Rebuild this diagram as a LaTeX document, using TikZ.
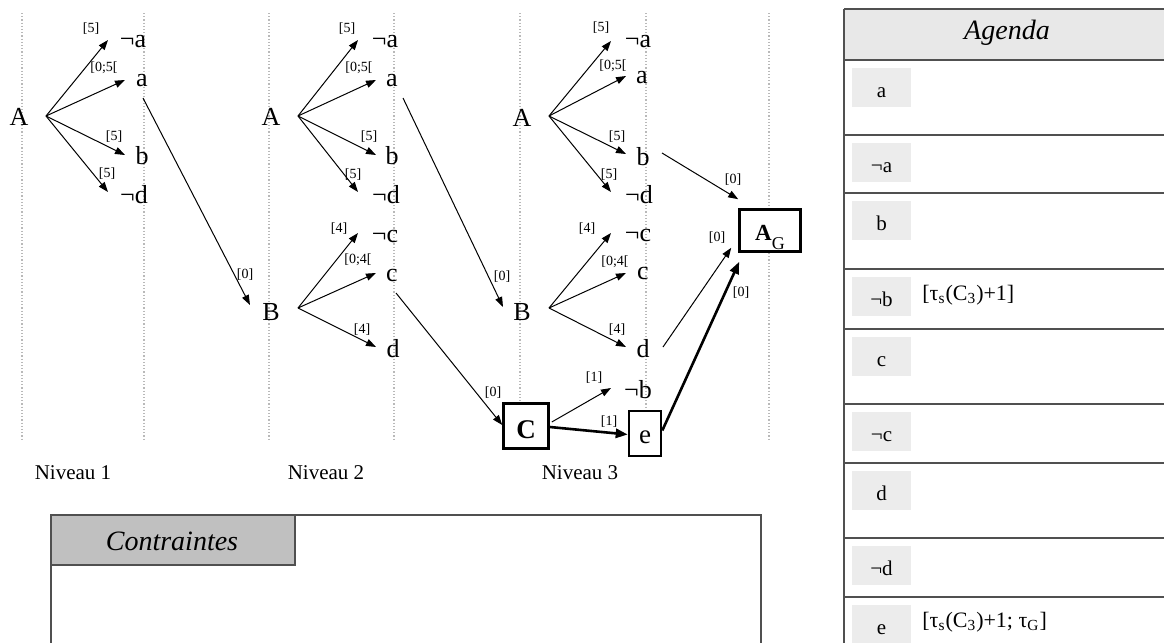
\documentclass[tikz,border=0pt]{standalone}
\usepackage{fontspec}
\setmainfont{Liberation Serif}
\usetikzlibrary{arrows.meta,calc}
\definecolor{tline}{HTML}{505050}
\definecolor{hdrA}{HTML}{E8E8E8}
\definecolor{hdrB}{HTML}{C0C0C0}
\definecolor{cellg}{HTML}{ECECEC}
\begin{document}
\begin{tikzpicture}[x=0.5pt,y=-0.5pt,
  lt/.style={font=\fontsize{13}{13}\selectfont, inner sep=0pt},
  lab/.style={font=\fontsize{7}{7}\selectfont, inner sep=0pt},
  niv/.style={font=\fontsize{10.5}{10.5}\selectfont, inner sep=0pt},
  tl/.style={font=\fontsize{10.5}{10.5}\selectfont, inner sep=0pt, anchor=base},
  tx/.style={font=\fontsize{11}{11}\selectfont, inner sep=0pt, anchor=base west},
  ttl/.style={font=\fontsize{14}{14}\selectfont\itshape, inner sep=0pt},
  arr/.style={-{Triangle[length=5pt,width=3.6pt]}, line width=0.5pt},
  tarr/.style={-{Triangle[length=6pt,width=4.6pt]}, line width=1.3pt},
  gridl/.style={densely dotted, gray!55, line width=0.6pt},
  boxn/.style={draw, line width=1.3pt, fill=white, inner sep=0pt, text depth=0pt},
  tbl/.style={draw=tline, line width=0.6pt}
]
\useasboundingbox (0,0) rectangle (1164,643);

% dotted level lines
\foreach \xx in {22,144,269,394,520,646,769}
  \draw[gridl] (\xx,13) -- (\xx,440);

% ---------- Level 1 ----------
\node[lt] (A1) at (19,117) {A};
\node[lt] (na1) at (133,42) {¬a};
\node[lt] (a1) at (142,81) {a};
\node[lt] (b1) at (142,156) {b};
\node[lt] (nd1) at (134,195) {¬d};
\draw[arr] ($(A1)+(27,-1)$) -- ($(na1)+(-25,-2)$);
\draw[arr] ($(A1)+(27,-1)$) -- ($(a1)+(-17,-1)$);
\draw[arr] ($(A1)+(27,-1)$) -- ($(b1)+(-17,-1)$);
\draw[arr] ($(A1)+(27,-1)$) -- ($(nd1)+(-26,-3)$);
\node[lab] (l1a) at (91,29) {[5]};
\node[lab] (l1b) at (104,68) {[0;5[};
\node[lab] (l1c) at (114,137) {[5]};
\node[lab] (l1d) at (107,174) {[5]};

% ---------- Level 2 ----------
\node[lt] (A2) at (271,117) {A};
\node[lt] (na2) at (385,42) {¬a};
\node[lt] (a2) at (392,81) {a};
\node[lt] (b2) at (392,156) {b};
\node[lt] (nd2) at (386,195) {¬d};
\draw[arr] ($(A2)+(27,-1)$) -- ($(na2)+(-27,-2)$);
\draw[arr] ($(A2)+(27,-1)$) -- ($(a2)+(-16,-1)$);
\draw[arr] ($(A2)+(27,-1)$) -- ($(b2)+(-16,-1)$);
\draw[arr] ($(A2)+(27,-1)$) -- ($(nd2)+(-28,-3)$);
\node[lab] (l2a) at (347,29) {[5]};
\node[lab] (l2b) at (359,68) {[0;5[};
\node[lab] (l2c) at (369,137) {[5]};
\node[lab] (l2d) at (353,175) {[5]};

\node[lt] (B2) at (271,312) {B};
\node[lt] (nc2) at (385,236) {¬c};
\node[lt] (c2) at (392,275) {c};
\node[lt] (d2) at (393,349) {d};
\draw[arr] ($(B2)+(27,-4)$) -- ($(nc2)+(-27,-3)$);
\draw[arr] ($(B2)+(27,-4)$) -- ($(c2)+(-16,-2)$);
\draw[arr] ($(B2)+(27,-4)$) -- ($(d2)+(-17,-2)$);
\node[lab] (l2e) at (339,229) {[4]};
\node[lab] (l2f) at (358,260) {[0;4[};
\node[lab] (l2g) at (362,330) {[4]};

% ---------- Level 3 ----------
\node[lt] (A3) at (522,118) {A};
\node[lt] (na3) at (638,42) {¬a};
\node[lt] (a3) at (642,78) {a};
\node[lt] (b3) at (643,157) {b};
\node[lt] (nd3) at (639,195) {¬d};
\draw[arr] ($(A3)+(27,-2)$) -- ($(na3)+(-27,-1)$);
\draw[arr] ($(A3)+(27,-2)$) -- ($(a3)+(-16,-2)$);
\draw[arr] ($(A3)+(27,-2)$) -- ($(b3)+(-17,-3)$);
\draw[arr] ($(A3)+(27,-2)$) -- ($(nd3)+(-28,-3)$);
\node[lab] (l3a) at (601,28) {[5]};
\node[lab] (l3b) at (613,66) {[0;5[};
\node[lab] (l3c) at (617,137) {[5]};
\node[lab] (l3d) at (609,175) {[5]};

\node[lt] (B3) at (522,312) {B};
\node[lt] (nc3) at (638,235) {¬c};
\node[lt] (c3) at (643,273) {c};
\node[lt] (d3) at (643,349) {d};
\node[lt] (nb3) at (638,390) {¬b};
\draw[arr] ($(B3)+(27,-4)$) -- ($(nc3)+(-27,-2)$);
\draw[arr] ($(B3)+(27,-4)$) -- ($(c3)+(-17,0)$);
\draw[arr] ($(B3)+(27,-4)$) -- ($(d3)+(-17,-2)$);
\node[lab] (l3e) at (587,229) {[4]};
\node[lab] (l3f) at (615,262) {[0;4[};
\node[lab] (l3g) at (617,330) {[4]};

% boxes
\node[boxn, minimum width=22.5pt, minimum height=22.5pt, text height=12pt,
      font=\fontsize{13.5}{13.5}\selectfont\bfseries] (C) at (526,426) {C};
\node[boxn, minimum width=16pt, minimum height=22.5pt, text height=9.5pt,
      font=\fontsize{13.5}{13.5}\selectfont] (e) at (645,433.5) {e};
\node[boxn, minimum width=30.5pt, minimum height=21pt, text height=10pt,
      font=\fontsize{11.5}{11.5}\selectfont] (AG) at (770,230.5)
      {\textbf{A}\raisebox{-4.5pt}{\fontsize{9}{9}\selectfont G}};

% cross-level connectors
\draw[arr] ($(a1)+(1,17)$) -- ($(B2)+(-21,-7)$);
\draw[arr] ($(a2)+(11,17)$) -- ($(B3)+(-19,-5)$);
\draw[arr] ($(c2)+(4,18)$) -- ($(C.west)+(0,-1)$);
\draw[arr] ($(C.east)+(2,-4)$) -- ($(nb3)+(-27,-2)$);
\draw[tarr] ($(C.east)+(0,1)$) -- ($(e.west)+(0,1)$);
\draw[tarr] ($(e.east)+(0,-3)$) -- ($(AG.south west)+(1,9)$);
\draw[arr] ($(d3)+(20,-2)$) -- ($(AG.south west)+(-7,-5)$);
\draw[arr] ($(b3)+(19,-4)$) -- ($(AG.north west)+(0,-9)$);
\node[lab] (k1) at (245,275) {[0]};
\node[lab] (k2) at (502,277) {[0]};
\node[lab] (k3) at (493,393) {[0]};
\node[lab] (k4) at (594,378) {[1]};
\node[lab] (k5) at (609,422) {[1]};
\node[lab] (k6) at (733,180) {[0]};
\node[lab] (k7) at (717,238) {[0]};
\node[lab] (k8) at (741,293) {[0]};

% level names
\node[niv] (n1) at (73,473) {Niveau 1};
\node[niv] (n2) at (326,473) {Niveau 2};
\node[niv] (n3) at (580,473) {Niveau 3};

% Contraintes panel
\draw[tbl] (51,643) -- (51,515) -- (761,515) -- (761,643);
\draw[tbl, fill=hdrB] (51,515) rectangle (295,565);
\node[ttl] (ctr) at (172,541) {Contraintes};

% Agenda panel
\fill[hdrA] (844,9) rectangle (1164,60);
\draw[tbl] (1164,9) -- (844,9);
\draw[draw=tline, line width=0.8pt] (844,9) -- (844,643);
\foreach \yy in {60,135,193,269,329,404,463,538,597}
  \draw[tbl] (844,\yy) -- (1164,\yy);
\node[ttl] (agd) at (1007,33) {Agenda};

\foreach \yy/\nm/\txt in {60/ra/a,135/rna/¬a,193/rb/b,269/rnb/¬b,329/rc/c,404/rnc/¬c,463/rd/d,538/rnd/¬d,597/re/e}{
  \fill[cellg] (852,\yy+8) rectangle (911,\yy+47);
  \node[tl] (\nm) at (881.5,\yy+37) {\txt};
}
\node[tx] (tb) at (922,300) {[τ\textsubscript{s}(C\textsubscript{3})+1]};
\node[tx] (te) at (922,627) {[τ\textsubscript{s}(C\textsubscript{3})+1; τ\textsubscript{G}]};
\end{tikzpicture}
\end{document}
